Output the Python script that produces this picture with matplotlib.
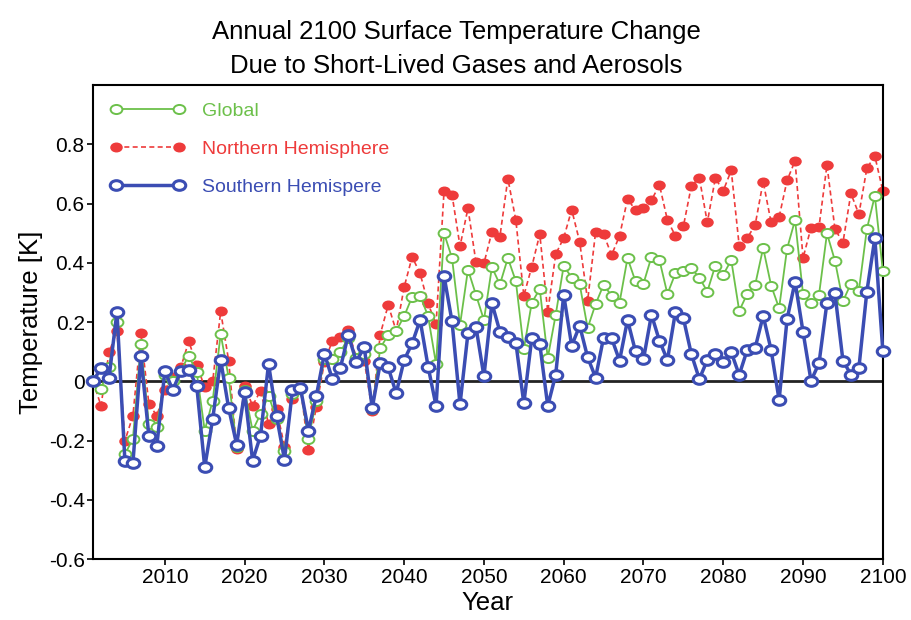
import numpy as np
import matplotlib.pyplot as plt
from matplotlib.path import Path

plt.rcParams['font.family'] = ['Liberation Sans', 'DejaVu Sans']

years = np.arange(2001, 2101)

north = [0.0, -0.082, 0.098, 0.169, -0.2, -0.116, 0.162, -0.076, -0.116, -0.03,
         0.016, 0.047, 0.135, 0.056, -0.02, 0.0, 0.236, 0.07, -0.228, -0.015,
         -0.082, -0.031, -0.144, -0.093, -0.22, -0.06, -0.02, -0.231, -0.085, 0.064,
         0.137, 0.15, 0.173, 0.08, 0.07, -0.1, 0.158, 0.258, 0.17, 0.318,
         0.42, 0.364, 0.263, 0.192, 0.642, 0.63, 0.456, 0.584, 0.402, 0.398,
         0.504, 0.488, 0.684, 0.544, 0.289, 0.387, 0.497, 0.235, 0.429, 0.484,
         0.579, 0.471, 0.272, 0.505, 0.497, 0.426, 0.491, 0.615, 0.578, 0.584,
         0.611, 0.663, 0.544, 0.491, 0.523, 0.659, 0.687, 0.536, 0.685, 0.643,
         0.712, 0.457, 0.483, 0.528, 0.674, 0.536, 0.554, 0.678, 0.744, 0.416,
         0.519, 0.521, 0.73, 0.514, 0.468, 0.634, 0.564, 0.719, 0.76, 0.643]

south = [0.0, 0.045, 0.01, 0.235, -0.27, -0.276, 0.085, -0.184, -0.217, 0.034,
         -0.029, 0.034, 0.038, -0.015, -0.29, -0.127, 0.072, -0.09, -0.213, -0.037,
         -0.267, -0.183, 0.059, -0.116, -0.264, -0.029, -0.022, -0.166, -0.048, 0.093,
         0.008, 0.045, 0.157, 0.067, 0.115, -0.09, 0.061, 0.047, -0.04, 0.072,
         0.128, 0.207, 0.05, -0.083, 0.356, 0.202, -0.078, 0.163, 0.184, 0.017,
         0.264, 0.168, 0.15, 0.131, -0.074, 0.146, 0.126, -0.083, 0.023, 0.292,
         0.12, 0.188, 0.081, 0.013, 0.148, 0.146, 0.07, 0.207, 0.101, 0.075,
         0.225, 0.137, 0.072, 0.233, 0.213, 0.092, 0.008, 0.072, 0.094, 0.066,
         0.098, 0.022, 0.106, 0.113, 0.221, 0.106, -0.063, 0.21, 0.336, 0.167,
         0.002, 0.061, 0.266, 0.297, 0.07, 0.023, 0.045, 0.303, 0.483, 0.103]

globe = [0.005, -0.026, 0.05, 0.2, -0.245, -0.194, 0.126, -0.144, -0.155, 0.02,
         0.0, 0.036, 0.087, 0.03, -0.166, -0.065, 0.16, 0.013, -0.22, -0.03,
         -0.166, -0.11, -0.048, -0.127, -0.234, -0.043, -0.026, -0.194, -0.065, 0.075,
         0.075, 0.098, 0.148, 0.08, 0.092, -0.093, 0.112, 0.157, 0.17, 0.22,
         0.285, 0.289, 0.22, 0.058, 0.5, 0.416, 0.19, 0.377, 0.292, 0.207,
         0.385, 0.327, 0.416, 0.338, 0.109, 0.266, 0.311, 0.079, 0.225, 0.39,
         0.35, 0.328, 0.18, 0.261, 0.326, 0.289, 0.266, 0.416, 0.337, 0.33,
         0.42, 0.409, 0.295, 0.364, 0.371, 0.382, 0.35, 0.303, 0.39, 0.36,
         0.409, 0.238, 0.295, 0.326, 0.45, 0.323, 0.247, 0.448, 0.544, 0.295,
         0.263, 0.292, 0.499, 0.407, 0.27, 0.33, 0.306, 0.514, 0.626, 0.373]

c_green = '#6cc04a'
c_red = '#ee3b3b'
c_blue = '#3b4db3'

# slightly flattened circle, like the markers in the original figure
circ = Path.unit_circle()
oval = Path(circ.vertices * [1.3, 1.0], circ.codes)

fig = plt.figure(figsize=(9.12, 6.2), dpi=100)
ax = fig.add_axes([0.102, 0.098, 0.866, 0.765])

ax.axhline(0, color='#222222', lw=2, zorder=1)

ax.plot(years, north, color=c_red, ls=(0, (3, 2)), lw=1.2, marker=oval, ms=8,
        mfc=c_red, mec=c_red, label='Northern Hemisphere', zorder=2, clip_on=False)
ax.plot(years, globe, color=c_green, lw=1.3, marker=oval, ms=8.5, mfc='white',
        mec=c_green, mew=1.4, label='Global', zorder=3, clip_on=False)
ax.plot(years, south, color=c_blue, lw=2.5, marker=oval, ms=9, mfc='white',
        mec=c_blue, mew=2.2, label='Southern Hemispere', zorder=4, clip_on=False)

ax.set_xlim(2001, 2100)
ax.set_ylim(-0.6, 1.0)
ax.set_xticks(np.arange(2010, 2101, 10))
ax.set_yticks(np.arange(-0.6, 0.81, 0.2))
ax.set_yticklabels(['-0.6', '-0.4', '-0.2', '0', '0.2', '0.4', '0.6', '0.8'])
ax.tick_params(labelsize=15, width=1.2, length=4, pad=2)
for s in ax.spines.values():
    s.set_linewidth(1.5)

ax.set_xlabel('Year', fontsize=18.5, labelpad=3)
ax.set_ylabel('Temperature [K]', fontsize=18.5, labelpad=4)
fig.suptitle('Annual 2100 Surface Temperature Change\nDue to Short-Lived Gases and Aerosols',
             fontsize=18.5, y=0.967, linespacing=1.5)

handles, labels = ax.get_legend_handles_labels()
order = [1, 0, 2]
leg = ax.legend([handles[i] for i in order], [labels[i] for i in order],
                loc='upper left', frameon=False, fontsize=14, numpoints=2,
                handlelength=3.8, handletextpad=0.9, labelspacing=1.05,
                bbox_to_anchor=(0.0, 1.0))
for txt, col in zip(leg.get_texts(), [c_green, c_red, c_blue]):
    txt.set_color(col)

fig.savefig('out.png', dpi=100)
